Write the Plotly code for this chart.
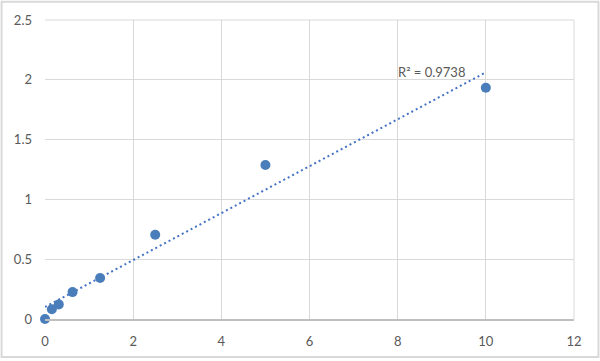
import numpy as np
import plotly.graph_objects as go

conc = [0, 0.156, 0.3125, 0.625, 1.25, 2.5, 5, 10]
od = [0, 0.081, 0.122, 0.225, 0.343, 0.705, 1.287, 1.933]
x_ticks = [0, 2, 4, 6, 8, 10, 12]
y_ticks = [0, 0.5, 1, 1.5, 2, 2.5]
r2_label = "R² = 0.9738"

W, H = 600, 361
L, R, T, B = 44.5, 25.5, 19.5, 39.5

slope, intercept = np.polyfit(conc, od, 1)
tx = [min(conc), max(conc)]
ty = [slope * v + intercept for v in tx]

fig = go.Figure()
fig.add_trace(go.Scatter(x=tx, y=ty, mode="lines",
                         line=dict(color="#4472c4", width=2, dash="2px,3px"),
                         hoverinfo="skip", showlegend=False, cliponaxis=False))
fig.add_trace(go.Scatter(x=conc, y=od, mode="markers",
                         marker=dict(color="#4a7ebb", size=10),
                         showlegend=False, cliponaxis=False))

fig.add_annotation(x=7.96, y=2.068, xref="x", yref="y", text=r2_label,
                   showarrow=False, xanchor="left", yanchor="middle",
                   font=dict(size=13, color="#595959"))

pw = W - L - R
ph = H - T - B
fig.add_shape(type="rect", xref="paper", yref="paper",
              x0=(1 - L) / pw, x1=(W - 1 - L) / pw,
              y0=-(H - 1 - T - ph) / ph, y1=1 + (T - 1) / ph,
              line=dict(color="#d9d9d9", width=2), layer="below")

font = "Lato, 'Open Sans', sans-serif"
fig.update_layout(
    width=W, height=H,
    margin=dict(l=L, r=R, t=T, b=B, pad=0),
    paper_bgcolor="white", plot_bgcolor="white",
    font=dict(family=font, size=13, color="#595959"),
    xaxis=dict(range=[0, 12], tickvals=x_ticks, showgrid=True,
               gridcolor="#d9d9d9", gridwidth=1, zeroline=False,
               showline=True, linecolor="#bfbfbf", linewidth=1.5,
               ticks="", ticklabelstandoff=10, mirror=False),
    yaxis=dict(range=[0, 2.5], tickvals=y_ticks, showgrid=True,
               gridcolor="#d9d9d9", gridwidth=1, zeroline=False,
               showline=False, ticks="", ticklabelstandoff=12),
)
fig.add_shape(type="line", xref="paper", yref="paper", x0=1, x1=1, y0=0, y1=1,
              line=dict(color="#d9d9d9", width=1))
fig.add_shape(type="line", xref="paper", yref="paper", x0=0, x1=1, y0=1, y1=1,
              line=dict(color="#d9d9d9", width=1))
fig.write_html("out.html")
